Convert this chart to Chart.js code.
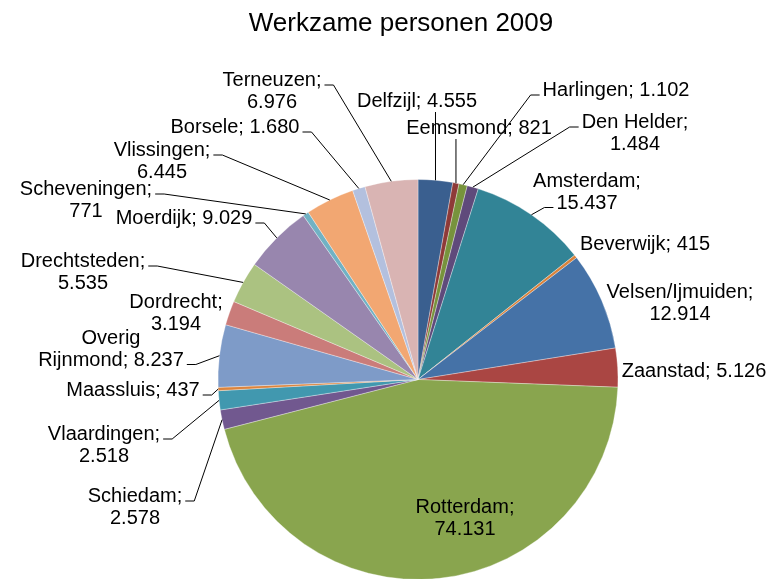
<!DOCTYPE html>
<html>
<head>
<meta charset="utf-8">
<title>Werkzame personen 2009</title>
<script src="https://cdn.jsdelivr.net/npm/chart.js@4.4.1/dist/chart.umd.min.js"></script>
<style>
  html, body { margin: 0; background: #fff; }
</style>
</head>
<body>
<canvas id="jobs" width="780" height="579"></canvas>
<script>
const title = 'Werkzame personen 2009'

const places = [
  'Delfzijl', 'Eemsmond', 'Harlingen', 'Den Helder', 'Amsterdam', 'Beverwijk',
  'Velsen/Ijmuiden', 'Zaanstad', 'Rotterdam', 'Schiedam', 'Vlaardingen', 'Maassluis',
  'Overig Rijnmond', 'Dordrecht', 'Drechtsteden', 'Moerdijk', 'Scheveningen',
  'Vlissingen', 'Borsele', 'Terneuzen',
]
const workers = [
  4555, 821, 1102, 1484, 15437, 415,
  12914, 5126, 74131, 2578, 2518, 437,
  8237, 3194, 5535, 9029, 771,
  6445, 1680, 6976,
]

const colors = [
  '#3a5f8f', '#8e3a38', '#77933c', '#5f4a7b', '#328496', '#d9823b',
  '#4572a7', '#aa4643', '#89a54e', '#71588f', '#4198af', '#db843d',
  '#7e9bc8', '#ca7c7a', '#abc281', '#9886ae', '#71b2c4',
  '#f2a772', '#b3c0de', '#d9b4b3',
]

// where each label sits: centre x, first baseline, how it wraps, leader line
// wrap 0 = one line, 1 = value on its own line, 2 = first word on its own line
const labelLayout = [
  { x: 417, y: 107, wrap: 0, lead: 'down' },
  { x: 479, y: 134, wrap: 0, lead: 'down' },
  { x: 616, y: 96, wrap: 0, lead: 'side', at: 0 },
  { x: 635, y: 128, wrap: 1, lead: 'side', at: 0 },
  { x: 587, y: 187, wrap: 1, lead: 'side', at: 1 },
  { x: 645, y: 250, wrap: 0 },
  { x: 680, y: 298, wrap: 1 },
  { x: 694, y: 377, wrap: 0 },
  { x: 465, y: 513, wrap: 1 },
  { x: 135, y: 502, wrap: 1, lead: 'side', at: 0 },
  { x: 104, y: 440, wrap: 1, lead: 'side', at: 0 },
  { x: 133, y: 396, wrap: 0, lead: 'side', at: 0 },
  { x: 111, y: 344, wrap: 2, lead: 'side', at: 1 },
  { x: 176, y: 308, wrap: 1 },
  { x: 83, y: 267, wrap: 1, lead: 'side', at: 0 },
  { x: 184, y: 224, wrap: 0, lead: 'side', at: 0 },
  { x: 86, y: 195, wrap: 1, lead: 'side', at: 0 },
  { x: 162, y: 156, wrap: 1, lead: 'side', at: 0 },
  { x: 235, y: 133, wrap: 0, lead: 'side', at: 0 },
  { x: 272, y: 86, wrap: 1, lead: 'side', at: 0 },
]
const lineGap = 21.5

const font = size => `${size}px "Liberation Sans", Arial, sans-serif`
const dots = v => String(v).replace(/\B(?=(\d{3})+(?!\d))/g, '.')

function labelLines(name, value, wrap) {
  if (wrap === 1) return [`${name};`, dots(value)]
  if (wrap === 2) {
    const i = name.indexOf(' ')
    return [name.slice(0, i), `${name.slice(i + 1)}; ${dots(value)}`]
  }
  return [`${name}; ${dots(value)}`]
}

// excel style labels with leader lines, plus the title
const sliceLabels = {
  id: 'sliceLabels',
  afterDatasetsDraw(chart) {
    const ctx = chart.ctx
    const arcs = chart.getDatasetMeta(0).data
    ctx.save()
    ctx.font = font(20)
    ctx.fillStyle = '#000'
    ctx.strokeStyle = '#000'
    ctx.lineWidth = 1
    ctx.textAlign = 'center'
    ctx.textBaseline = 'alphabetic'

    arcs.forEach((arc, i) => {
      const { x, y, startAngle, endAngle, outerRadius } =
        arc.getProps(['x', 'y', 'startAngle', 'endAngle', 'outerRadius'], true)
      const mid = (startAngle + endAngle) / 2
      const ax = x + Math.cos(mid) * outerRadius
      const ay = y + Math.sin(mid) * outerRadius
      const spot = labelLayout[i]
      const lines = labelLines(places[i], workers[i], spot.wrap)

      lines.forEach((line, n) => ctx.fillText(line, spot.x, spot.y + n * lineGap))

      if (spot.lead === 'down') {
        ctx.beginPath()
        ctx.moveTo(ax, spot.y + 5)
        ctx.lineTo(ax, ay)
        ctx.stroke()
      } else if (spot.lead === 'side') {
        const half = ctx.measureText(lines[spot.at]).width / 2
        const ly = spot.y + spot.at * lineGap - 1
        const dir = spot.x < ax ? 1 : -1
        const sx = spot.x + dir * (half + 3)
        ctx.beginPath()
        ctx.moveTo(sx, ly)
        ctx.lineTo(sx + dir * 9, ly)
        ctx.lineTo(ax, ay)
        ctx.stroke()
      }
    })

    ctx.font = font(26)
    ctx.fillText(title, 401, 31)
    ctx.restore()
  },
}

new Chart(document.querySelector('#jobs'), {
  type: 'pie',
  data: {
    labels: places,
    datasets: [{
      data: workers,
      backgroundColor: colors,
      borderColor: 'rgba(255,255,255,0.55)',
      borderWidth: 0.6,
      hoverOffset: 0,
      radius: 200,
    }],
  },
  options: {
    responsive: false,
    animation: false,
    events: [],
    layout: {
      padding: { left: 218, right: 162, top: 180, bottom: -1 },
    },
    plugins: {
      legend: { display: false },
      title: { display: false },
      tooltip: { enabled: false },
    },
  },
  plugins: [sliceLabels],
})
</script>
</body>
</html>
